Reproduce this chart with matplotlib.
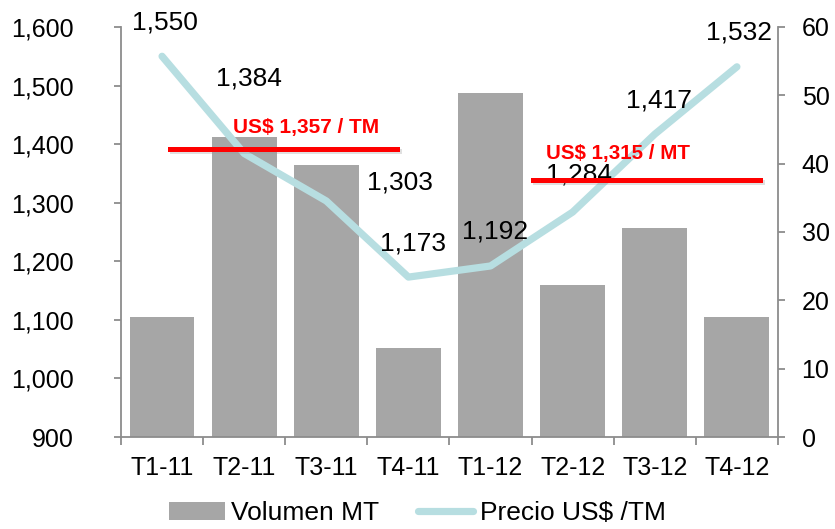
import matplotlib
matplotlib.use("Agg")
import matplotlib.pyplot as plt
import matplotlib.patheffects as pe
import numpy as np

plt.rcParams['font.family'] = ['Liberation Sans', 'DejaVu Sans']

categories = ["T1-11", "T2-11", "T3-11", "T4-11", "T1-12", "T2-12", "T3-12", "T4-12"]
volumen = [17.6, 43.9, 39.8, 13.0, 50.3, 22.2, 30.6, 17.6]
precio = [1550, 1384, 1303, 1173, 1192, 1284, 1417, 1532]
precio_labels = ["1,550", "1,384", "1,303", "1,173", "1,192", "1,284", "1,417", "1,532"]
label_offsets = [(3, 34), (5, 75), (74, 18), (5, 34), (5, 34), (6, 38), (4, 34), (2, 34)]
avg_labels = ["US$ 1,357 / TM", "US$ 1,315 / MT"]
avg_levels = [1392, 1339]
avg_spans = [(0.1, 2.86), (4.52, 7.28)]

fig = plt.figure(figsize=(8.35, 5.29), dpi=100)
ax = fig.add_axes([0.1449, 0.1739, 0.7868, 0.7751])
ax2 = ax.twinx()
ax.set_zorder(ax2.get_zorder() + 1)
ax.patch.set_visible(False)

x = np.arange(len(categories))
ax2.bar(x, volumen, width=0.79, color="#a6a6a6", label="Volumen MT", zorder=2)
ax2.set_ylim(0, 60)
ax2.set_yticks(np.arange(0, 61, 10))

ax.plot(x, precio, color="#b7dee1", lw=5.2, solid_capstyle="round", label="Precio US$ /TM", zorder=3)
ax.set_ylim(900, 1600)
ax.set_xlim(-0.5, len(categories) - 0.5)
ax.set_yticks(np.arange(900, 1601, 100))
ax.set_yticklabels([f"{v:,}" for v in range(900, 1601, 100)])

for xi, yi, lab, off in zip(x, precio, precio_labels, label_offsets):
    ax.annotate(lab, (xi, yi), xytext=off, textcoords="offset pixels",
                ha="center", va="center", fontsize=19, color="black", zorder=4)

shadow = [pe.SimpleLineShadow(offset=(1.2, -1.5), shadow_color="#999999", alpha=0.3), pe.Normal()]
for (x0, x1), lvl in zip(avg_spans, avg_levels):
    ax.plot([x0, x1], [lvl, lvl], color="#ff0000", lw=3.6, zorder=5, path_effects=shadow)

ax.text(0.87, 1428, avg_labels[0], color="#ff0000", fontsize=15, fontweight="bold",
        ha="left", va="center", zorder=6)
ax.text(4.67, 1384, avg_labels[1], color="#ff0000", fontsize=14.8, fontweight="bold",
        ha="left", va="center", zorder=6)

spine_c = "#8c8c8c"
for a in (ax, ax2):
    a.spines["top"].set_visible(False)
    for s in ("left", "right", "bottom"):
        a.spines[s].set_color(spine_c)
        a.spines[s].set_linewidth(1.3)
ax.spines["right"].set_visible(False)
ax2.spines["left"].set_visible(False)
ax2.spines["bottom"].set_visible(False)

ax.set_xticks(x)
ax.set_xticklabels(categories)
ax.set_xticks(np.arange(-0.5, len(categories), 1), minor=True)
ax.tick_params(axis="x", which="major", length=0, pad=14, labelsize=18)
ax.tick_params(axis="x", which="minor", length=6, color=spine_c, width=1.3)
ax.tick_params(axis="y", length=5, color=spine_c, width=1.3, labelsize=18, pad=29)
ax2.tick_params(axis="y", length=5, color=spine_c, width=1.3, labelsize=18, pad=12)

h1, l1 = ax2.get_legend_handles_labels()
h2, l2 = ax.get_legend_handles_labels()
fig.legend(h1 + h2, l1 + l2, loc="lower center", bbox_to_anchor=(0.5, -0.038), ncol=2,
           frameon=False, fontsize=19, handlelength=2.1, handletextpad=0.25, columnspacing=1.45)

fig.savefig("out.png", dpi=100)
